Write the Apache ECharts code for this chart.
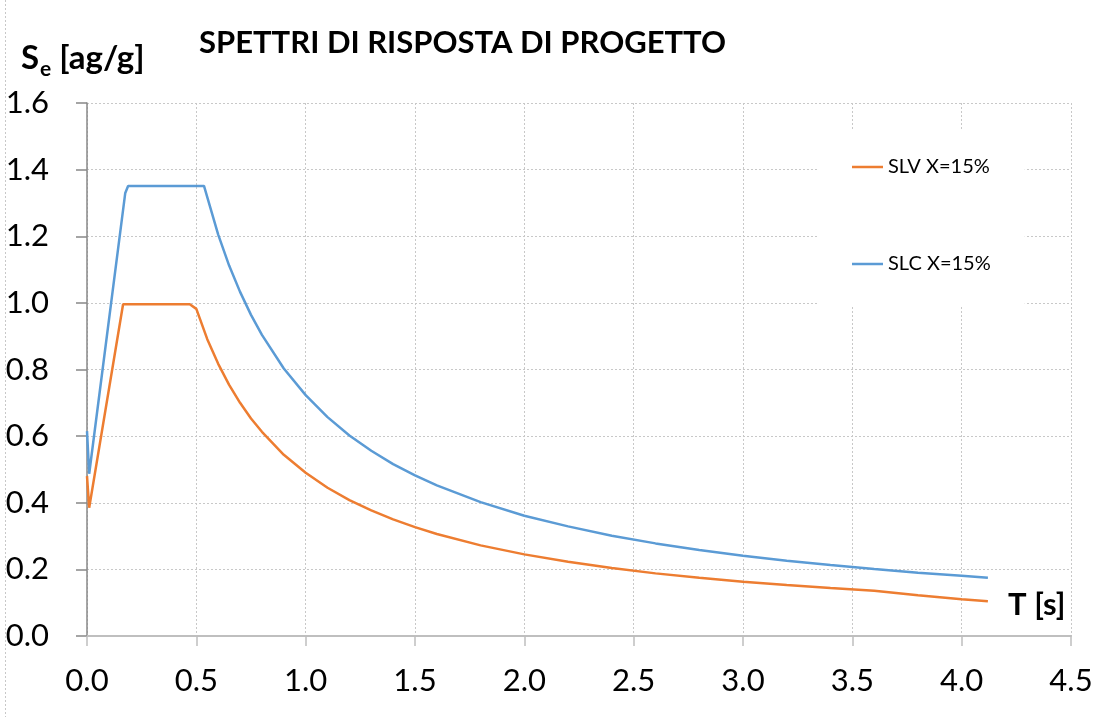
<!DOCTYPE html>
<html><head><meta charset="utf-8">
<script src="https://cdn.jsdelivr.net/npm/echarts@6/dist/echarts.min.js"></script>
<style>html,body{margin:0;padding:0;background:#fff}#c{width:1108px;height:717px}</style>
</head><body><div id="c"></div>
<script>
const titleText = 'SPETTRI DI RISPOSTA DI PROGETTO';
const seriesNames = ['SLV X=15%', 'SLC X=15%'];
const xTicks = [0, 0.5, 1.0, 1.5, 2.0, 2.5, 3.0, 3.5, 4.0, 4.5];
const yTicks = [0, 0.2, 0.4, 0.6, 0.8, 1.0, 1.2, 1.4, 1.6];

const tSLV = [0, 0.01, 0.165, 0.47, 0.5, 0.55, 0.6, 0.65, 0.7, 0.75, 0.8, 0.9, 1.0, 1.1, 1.2, 1.3, 1.4, 1.5, 1.6, 1.8, 2.0, 2.2, 2.4, 2.6, 2.8, 3.0, 3.2, 3.4, 3.6, 3.8, 4.0, 4.12];
const slv = [0.48, 0.385, 0.996, 0.996, 0.982, 0.891, 0.817, 0.754, 0.700, 0.653, 0.613, 0.544, 0.490, 0.445, 0.408, 0.377, 0.350, 0.327, 0.306, 0.272, 0.245, 0.223, 0.204, 0.188, 0.175, 0.163, 0.153, 0.144, 0.136, 0.122, 0.110, 0.104];

const tSLC = [0, 0.01, 0.175, 0.188, 0.535, 0.6, 0.65, 0.7, 0.75, 0.8, 0.9, 1.0, 1.1, 1.2, 1.3, 1.4, 1.5, 1.6, 1.8, 2.0, 2.2, 2.4, 2.6, 2.8, 3.0, 3.2, 3.4, 3.6, 3.8, 4.0, 4.12];
const slc = [0.615, 0.487, 1.33, 1.351, 1.351, 1.205, 1.112, 1.033, 0.964, 0.904, 0.803, 0.723, 0.657, 0.602, 0.556, 0.516, 0.482, 0.452, 0.402, 0.361, 0.329, 0.301, 0.278, 0.258, 0.241, 0.226, 0.213, 0.201, 0.190, 0.181, 0.175];

const FONT = 'Lato, "Open Sans", sans-serif';
const chart = echarts.init(document.getElementById('c'), null, {renderer: 'canvas'});
chart.setOption({
  animation: false,
  backgroundColor: '#fff',
  title: [
    {text: titleText, left: 194, top: 22, textStyle: {fontFamily: FONT, fontSize: 31, fontWeight: 'bold', color: '#000'}},
    {text: '{s|S}{e|e}{s| [ag/g]}', left: 16, top: 33, textStyle: {rich: {
      s: {fontFamily: FONT, fontSize: 33, fontWeight: 'bold', color: '#000', lineHeight: 40},
      e: {fontFamily: FONT, fontSize: 21, fontWeight: 'bold', color: '#000', padding: [22, 0, 0, 1], lineHeight: 40}
    }}},
    {text: 'T [s]', left: 1003, top: 584, textStyle: {fontFamily: FONT, fontSize: 31, fontWeight: 'bold', color: '#000'}}
  ],
  legend: {
    orient: 'vertical', left: 818, top: 130,
    backgroundColor: '#fff',
    padding: [26, 34, 30, 34],
    itemGap: 75, itemWidth: 31, itemHeight: 2.5, icon: 'rect',
    textStyle: {fontFamily: FONT, fontSize: 20, color: '#000', lineHeight: 22},
    data: seriesNames
  },
  grid: {left: 87, right: 37, top: 103, bottom: 81, containLabel: false},
  xAxis: {
    type: 'value', min: 0, max: 4.5, interval: 0.5,
    axisLine: {lineStyle: {color: '#bfbfbf', width: 2}},
    axisTick: {show: true, length: 10, lineStyle: {color: '#bfbfbf', width: 1.5}},
    axisLabel: {margin: 29, fontFamily: FONT, fontSize: 31, color: '#000', formatter: v => v.toFixed(1)},
    splitLine: {show: true, lineStyle: {color: '#c8c8c8', type: [2, 2], width: 1}}
  },
  yAxis: {
    type: 'value', min: 0, max: 1.6, interval: 0.2,
    axisLine: {show: true, lineStyle: {color: '#888', width: 1.5}},
    axisTick: {show: true, length: 11, lineStyle: {color: '#888', width: 1.5}},
    axisLabel: {margin: 38, fontFamily: FONT, fontSize: 31, color: '#000', formatter: v => v.toFixed(1)},
    splitLine: {show: true, lineStyle: {color: '#c8c8c8', type: [2, 2], width: 1}}
  },
  series: [
    {name: seriesNames[0], type: 'line', showSymbol: false, smooth: false, z: 3,
     lineStyle: {color: '#ED7D31', width: 2.5}, itemStyle: {color: '#ED7D31'},
     data: tSLV.map((t, i) => [t, slv[i]])},
    {name: seriesNames[1], type: 'line', showSymbol: false, smooth: false, z: 3,
     lineStyle: {color: '#5B9BD5', width: 2.5}, itemStyle: {color: '#5B9BD5'},
     data: tSLC.map((t, i) => [t, slc[i]])}
  ],
  graphic: [
    {type: 'line', shape: {x1: 5.5, y1: 0, x2: 5.5, y2: 717}, style: {stroke: '#c8c8c8', lineDash: [2, 2], lineWidth: 1}}
  ]
});
</script></body></html>
